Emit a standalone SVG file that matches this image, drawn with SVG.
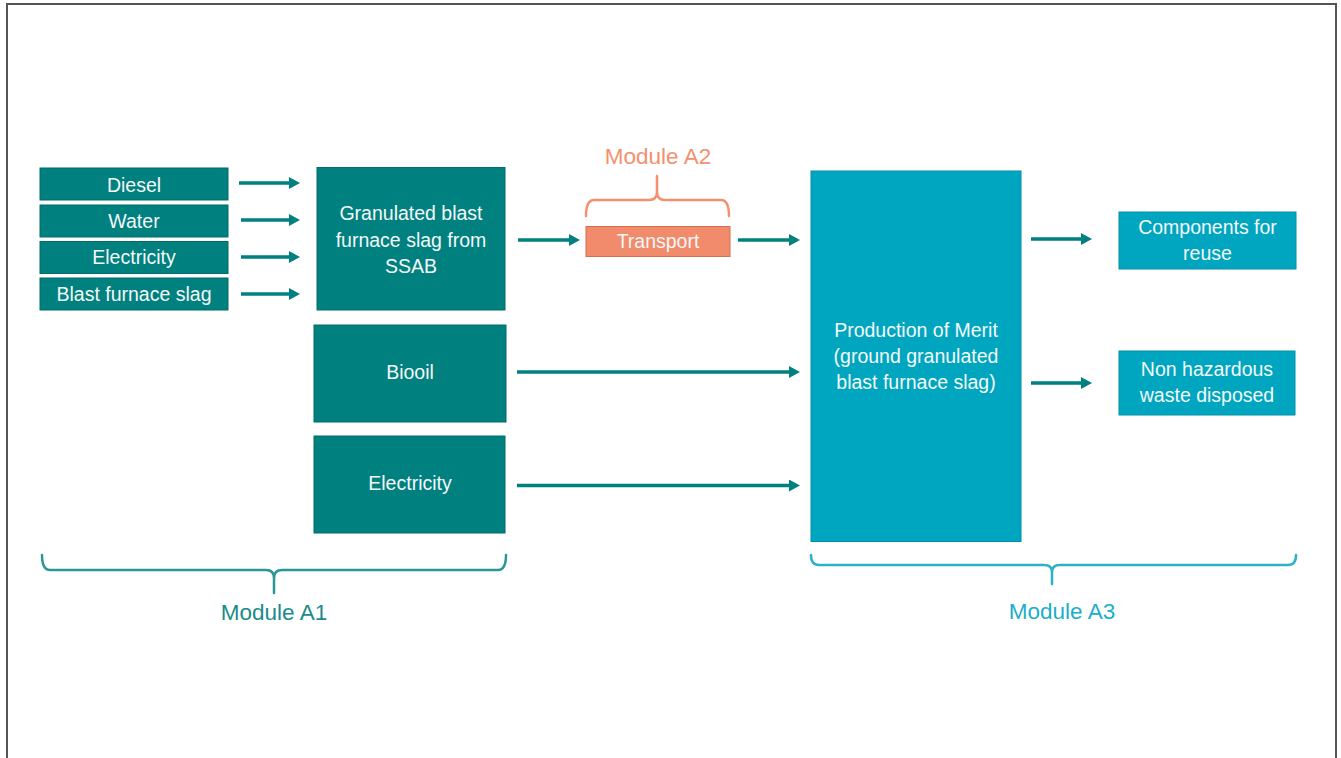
<svg xmlns="http://www.w3.org/2000/svg" width="1341" height="758" viewBox="0 0 1341 758">
<defs>
<style>
.dk{fill:#00807F;stroke:#006C6B;stroke-width:1}
.lt{fill:#00A6C0;stroke:#0091A8;stroke-width:1}
.or{fill:#F18B6C;stroke:#D4704F;stroke-width:1}
.t{font-family:"Liberation Sans",Arial,sans-serif;font-size:19.5px;fill:#F4F8F8;text-anchor:middle}
.m{font-family:"Liberation Sans",Arial,sans-serif;font-size:22.5px;text-anchor:middle}
.ar{stroke:#00807F;stroke-width:3.5;fill:none;marker-end:url(#ah)}
.br{fill:none;stroke-width:2.5;stroke-linecap:round;stroke-linejoin:round}
</style>
<marker id="ah" viewBox="0 -6 11 12" refX="0" refY="0" markerWidth="11" markerHeight="12" markerUnits="userSpaceOnUse" orient="auto">
<path d="M0,-6 L11,0 L0,6 z" fill="#00807F"/>
</marker>
</defs>
<rect x="0" y="0" width="1341" height="758" fill="#FFFFFF"/>
<rect x="7" y="4" width="1329" height="770" fill="none" stroke="#555555" stroke-width="2"/>

<g id="diesel"><rect class="dk" x="40" y="168" width="188" height="32"/><text class="t" x="134" y="192">Diesel</text></g>
<g id="water"><rect class="dk" x="40" y="205" width="188" height="32"/><text class="t" x="134" y="228">Water</text></g>
<g id="electricity1"><rect class="dk" x="40" y="241.5" width="188" height="32"/><text class="t" x="134" y="264">Electricity</text></g>
<g id="bfs"><rect class="dk" x="40" y="278" width="188" height="32"/><text class="t" x="134" y="301">Blast furnace slag</text></g>

<g id="gbfs"><rect class="dk" x="317" y="167.5" width="188" height="142.5"/><text class="t" x="411" y="220">Granulated blast</text><text class="t" x="411" y="246.5">furnace slag from</text><text class="t" x="411" y="273">SSAB</text></g>
<g id="biooil"><rect class="dk" x="314" y="325" width="192" height="97"/><text class="t" x="410" y="379">Biooil</text></g>
<g id="electricity2"><rect class="dk" x="314" y="436" width="191" height="97"/><text class="t" x="410" y="490">Electricity</text></g>

<g id="transport"><rect class="or" x="586" y="226.5" width="144" height="30"/><text class="t" x="658" y="248">Transport</text></g>

<g id="production"><rect class="lt" x="811" y="171" width="210" height="370.5"/><text class="t" x="916" y="337">Production of Merit</text><text class="t" x="916" y="363">(ground granulated</text><text class="t" x="916" y="389">blast furnace slag)</text></g>

<g id="components"><rect class="lt" x="1119" y="212" width="177" height="57"/><text class="t" x="1207.5" y="233.5">Components for</text><text class="t" x="1207.5" y="260">reuse</text></g>
<g id="waste"><rect class="lt" x="1119" y="351" width="176" height="64"/><text class="t" x="1207" y="376">Non hazardous</text><text class="t" x="1207" y="402">waste disposed</text></g>

<g id="connectors">
<path class="ar" d="M239,183 H289"/>
<path class="ar" d="M241,220 H289"/>
<path class="ar" d="M241,257 H289"/>
<path class="ar" d="M241,294 H289"/>
<path class="ar" d="M518,240 H569"/>
<path class="ar" d="M738,240 H789"/>
<path class="ar" d="M517,372 H789"/>
<path class="ar" d="M517,485.5 H789"/>
<path class="ar" d="M1031,239 H1081"/>
<path class="ar" d="M1031,383 H1081"/>
</g>

<g id="module-a1">
<path class="br" stroke="#2A9796" d="M42,555 Q42,570 50,570 L266,570 Q274,570 274,578 L274,593 M274,578 Q274,570 282,570 L498,570 Q506,570 506,555"/>
<text class="m" x="274" y="620" fill="#1A8B8A">Module A1</text>
</g>
<g id="module-a2">
<path class="br" stroke="#F4906E" d="M586,216 Q586,200 594,200 L649,200 Q657,200 657,192 L657,176 M657,192 Q657,200 665,200 L721,200 Q729,200 729,216"/>
<text class="m" x="658" y="164" fill="#F4906E">Module A2</text>
</g>
<g id="module-a3">
<path class="br" stroke="#2DB1C7" d="M811,555 Q811,565 819,565 L1044,565 Q1052,565 1052,572 L1052,584 M1052,572 Q1052,565 1060,565 L1288,565 Q1296,565 1296,555"/>
<text class="m" x="1062" y="619" fill="#1AAFC8">Module A3</text>
</g>
</svg>
